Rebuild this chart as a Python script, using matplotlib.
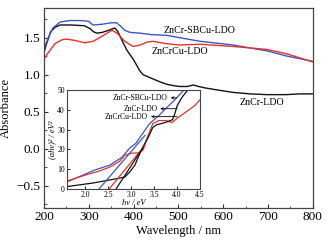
import matplotlib
matplotlib.use("Agg")
import matplotlib.pyplot as plt
from matplotlib.ticker import MultipleLocator

plt.rcParams['font.family'] = ['Liberation Serif', 'DejaVu Serif']
plt.rcParams['mathtext.fontset'] = 'stix'

# Main spectra (wavelength nm, absorbance)
wl_black = [200,205,215,225,236,260,290,303,310,318,330,345,358,365,375,385,400,414,421,440,460,474,490,503,520,533,545,560,590,622,660,697,740,770,800]
ab_black = [1.30,1.40,1.58,1.64,1.67,1.67,1.66,1.62,1.58,1.56,1.57,1.60,1.63,1.58,1.45,1.33,1.20,1.05,1.00,0.95,0.90,0.87,0.85,0.84,0.84,0.86,0.84,0.82,0.79,0.76,0.74,0.73,0.73,0.74,0.74]

wl_blue = [200,210,220,236,258,280,300,305,310,330,350,362,370,380,392,414,440,474,548,622,698,742,800]
ab_blue = [1.35,1.50,1.63,1.71,1.73,1.73,1.72,1.69,1.67,1.68,1.70,1.70,1.66,1.60,1.57,1.56,1.54,1.53,1.45,1.40,1.32,1.25,1.18]

wl_red = [200,210,225,240,251,270,291,310,330,352,365,380,399,415,430,444,470,503,548,622,698,742,800]
ab_red = [1.21,1.30,1.42,1.47,1.48,1.46,1.43,1.45,1.52,1.60,1.55,1.45,1.38,1.40,1.44,1.45,1.42,1.40,1.41,1.38,1.34,1.28,1.17]

# Inset Tauc plots (eV, (ahv)^2)
ev_blue = [1.6,1.9,2.2,2.53,2.8,2.97,3.1,3.25,3.4,3.6,3.77,3.95,4.05,4.15]
ta_blue = [3.5,6.5,9.5,12,16,20.7,23,28,33,37,41,45,47.5,50]
ev_red = [1.6,2.0,2.3,2.53,2.75,2.86,3.0,3.19,3.26,3.35,3.47,3.6,3.77,3.88,4.02,4.2,4.38,4.5]
ta_red = [4,7,9,11,14,17,18,18.3,19.7,26,33,34.5,34.5,33.5,36,39,42,45]
ev_black = [1.6,2.17,2.53,2.86,2.97,3.08,3.19,3.26,3.37,3.47,3.56,3.66,3.8,3.9,3.95,4.0,4.1,4.23]
ta_black = [1.2,3,4.5,6,8.6,12,18,21.4,26,31,32.5,33,34,35,38,42,46,50]

# Tangent lines (start, end)
tan_blue_x = [2.30, 3.30]; tan_blue_y = [0, 27]
tan_red_x = [2.52, 3.30]; tan_red_y = [0, 22]
tan_black_x = [2.67, 3.26]; tan_black_y = [0, 21]

c_black = '#111111'
c_blue = '#3a55c8'
c_red = '#e8302a'

fig = plt.figure(figsize=(3.28, 2.41), dpi=100)
ax = fig.add_axes([0.134, 0.137, 0.820, 0.830])
ax.plot(wl_black, ab_black, color=c_black, lw=1.0)
ax.plot(wl_blue, ab_blue, color=c_blue, lw=1.0)
ax.plot(wl_red, ab_red, color=c_red, lw=1.0)
ax.set_xlim(200, 800)
ax.set_ylim(-0.8, 1.9)
ax.xaxis.set_major_locator(MultipleLocator(100))
ax.xaxis.set_minor_locator(MultipleLocator(50))
ax.yaxis.set_major_locator(MultipleLocator(0.5))
ax.yaxis.set_minor_locator(MultipleLocator(0.25))
ax.tick_params(which='both', direction='in', labelsize=9.5, colors='#333333', labelcolor='black')
ax.tick_params(which='major', length=3, width=0.8, pad=2.5)
ax.tick_params(which='minor', length=1.8, width=0.6)
for s in ax.spines.values():
    s.set_color('#444444'); s.set_linewidth(0.9)
ax.set_xlabel('Wavelength / nm', fontsize=9, labelpad=1)
ax.set_ylabel('Absorbance', fontsize=9, labelpad=3)
ax.text(546, 1.59, 'ZnCr-SBCu-LDO', fontsize=7.2, ha='center', va='center')
ax.text(504, 1.31, 'ZnCrCu-LDO', fontsize=7.2, ha='center', va='center')
ax.text(687, 0.63, 'ZnCr-LDO', fontsize=7.2, ha='center', va='center')

ins = fig.add_axes([0.204, 0.216, 0.406, 0.411])
ins.plot(ev_blue, ta_blue, color=c_blue, lw=0.9)
ins.plot(ev_red, ta_red, color=c_red, lw=0.9)
ins.plot(ev_black, ta_black, color=c_black, lw=0.9)
ins.plot(tan_blue_x, tan_blue_y, color=c_blue, lw=0.9)
ins.plot(tan_red_x, tan_red_y, color=c_red, lw=0.9)
ins.plot(tan_black_x, tan_black_y, color=c_black, lw=0.9)
ins.set_xlim(1.6, 4.5)
ins.set_ylim(0, 50)
ins.xaxis.set_major_locator(MultipleLocator(0.5))
ins.yaxis.set_major_locator(MultipleLocator(10))
ins.tick_params(which='both', direction='in', labelsize=5.5, length=2, width=0.6, pad=1.5)
for s in ins.spines.values():
    s.set_color('#444444'); s.set_linewidth(0.8)
ins.set_xlabel('hν / eV', fontsize=6, style='italic', labelpad=0)
ins.set_ylabel('(αhν)² / eV²', fontsize=6, style='italic', labelpad=1)

arw = dict(arrowstyle='<-', color='black', lw=0.6, shrinkA=0, shrinkB=0, mutation_scale=4)
ins.annotate('ZnCr-SBCu-LDO', xy=(3.99, 46), xytext=(3.80, 46), fontsize=5.5,
             ha='right', va='center', arrowprops=arw)
ins.annotate('ZnCr-LDO', xy=(4.00, 40.5), xytext=(3.57, 40.5), fontsize=5.5,
             ha='right', va='center', arrowprops=arw)
ins.annotate('ZnCrCu-LDO', xy=(4.00, 36.5), xytext=(3.37, 36.5), fontsize=5.5,
             ha='right', va='center', arrowprops=arw)

fig.savefig('out.png', dpi=100)
